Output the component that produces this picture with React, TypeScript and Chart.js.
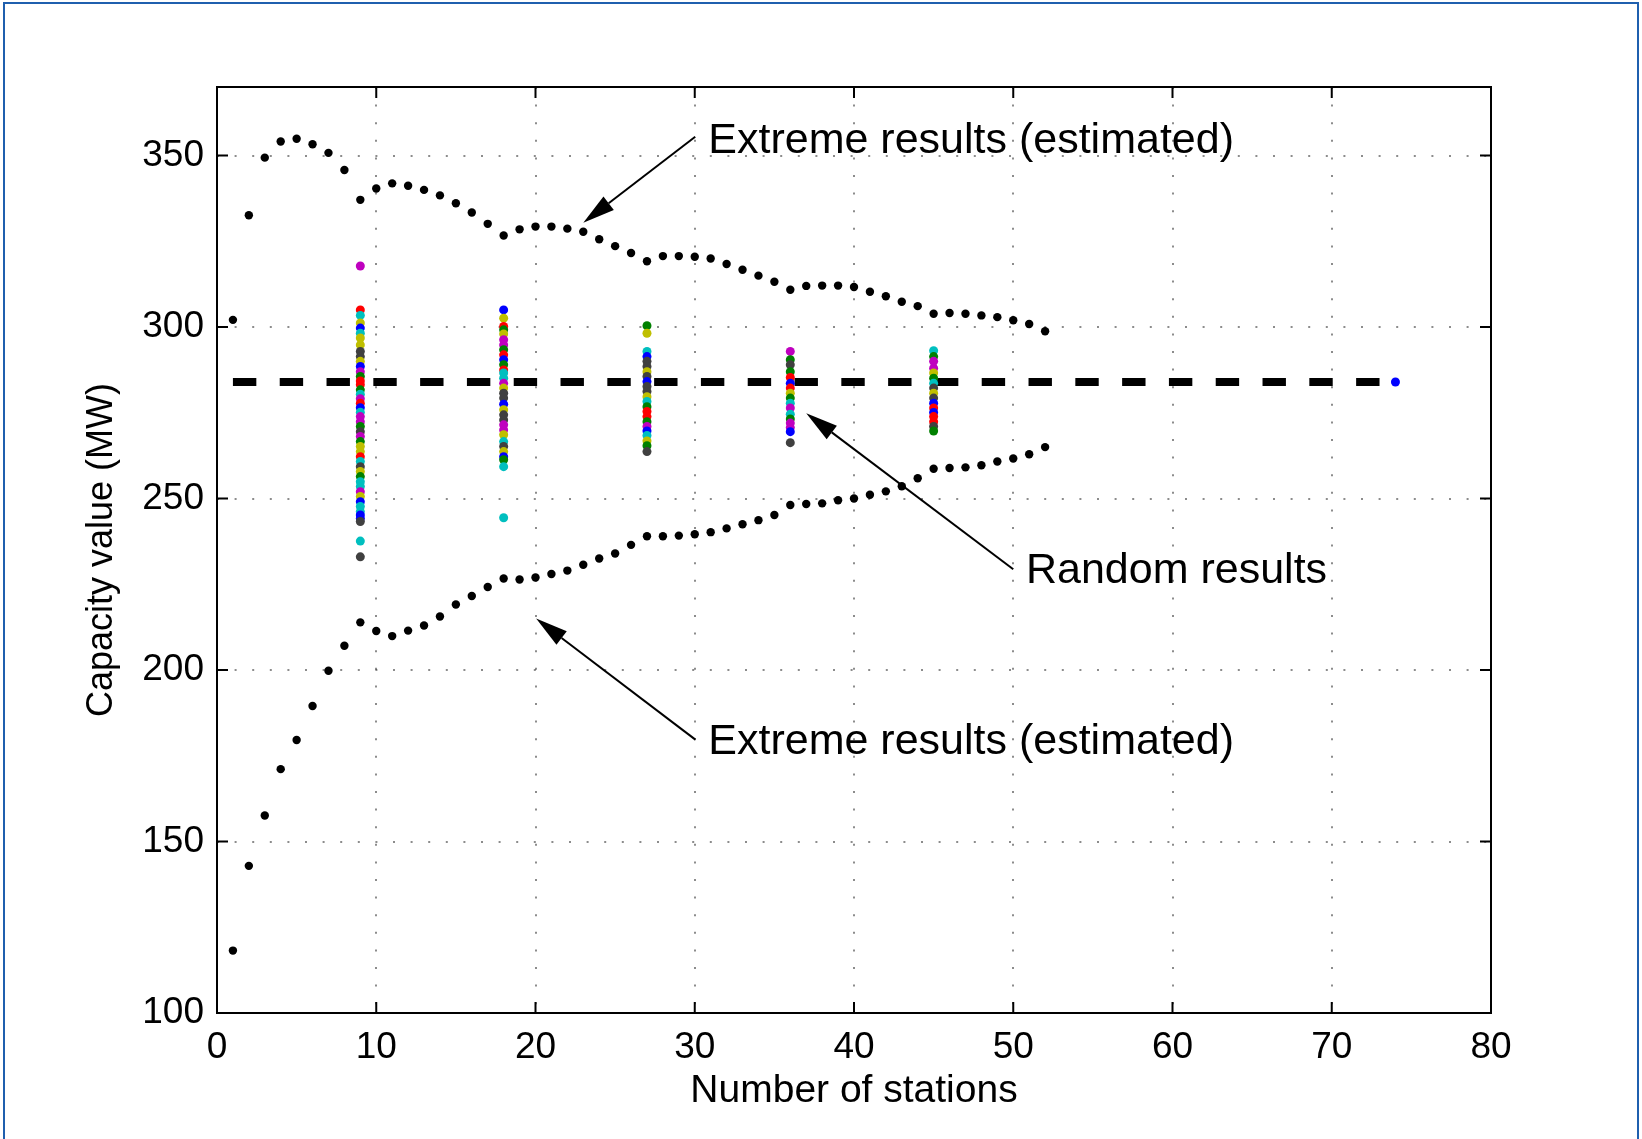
import React, { useEffect, useRef } from "react";
import { Chart, registerables } from "chart.js";

Chart.register(...registerables);

// ---------- data ----------
const stations = [
  1, 2, 3, 4, 5, 6, 7, 8, 9, 10, 11, 12, 13, 14, 15, 16, 17, 18, 19, 20, 21, 22, 23, 24, 25, 26,
  27, 28, 29, 30, 31, 32, 33, 34, 35, 36, 37, 38, 39, 40, 41, 42, 43, 44, 45, 46, 47, 48, 49, 50, 51, 52,
];
const upperExtreme = [
  302.1, 332.6, 349.4, 354.1, 354.9, 353.3, 350.8, 345.8, 337.1, 340.4, 341.9, 341.2, 340.0, 338.4,
  336.1, 333.4, 330.1, 326.7, 328.5, 329.3, 329.3, 328.7, 327.8, 325.6, 323.6, 321.6, 319.2, 320.7,
  320.7, 320.5, 320.0, 318.4, 316.7, 315.0, 313.2, 310.9, 312.0, 312.1, 312.1, 311.7, 310.3, 309.0,
  307.4, 306.1, 303.9, 304.1, 303.9, 303.4, 302.9, 302.0, 300.9, 298.8,
];
const lowerExtreme = [
  118.2, 142.9, 157.6, 171.1, 179.6, 189.5, 199.8, 207.1, 213.9, 211.4, 209.9, 211.5, 213.0, 215.6,
  219.1, 221.6, 224.2, 226.7, 226.4, 227.0, 228.0, 229.0, 230.7, 232.5, 234.0, 236.5, 239.0, 239.0,
  239.2, 239.6, 240.2, 241.3, 242.5, 243.7, 245.2, 248.1, 248.4, 248.6, 249.5, 250.0, 251.1, 252.1,
  253.6, 255.9, 258.7, 258.9, 259.1, 259.7, 260.8, 261.7, 262.9, 265.0,
];

const referenceX = [1, 74];
const referenceValue = 284;
const allStationsX = 74;
const allStationsValue = 284;

const sampleSizes = [9, 18, 27, 36, 45];

const random9 = [
  317.8, 305.0, 303.4, 301.2, 299.7, 298.2, 296.8, 294.8, 292.9, 291.4, 290.0, 288.5, 287.0, 285.6,
  284.3, 283.2, 281.7, 280.4, 279.1, 277.8, 276.5, 275.2, 273.9, 272.4, 271.0, 269.5, 268.1, 266.6,
  265.2, 263.7, 262.2, 260.8, 259.3, 257.9, 256.4, 254.9, 253.5, 252.0, 250.6, 249.1, 247.7, 246.2,
  245.2, 244.2, 243.3, 237.6, 233.0,
];
const random9Colors = "mrcybcyykkybmgrrgcmrbcmmgkmgyyrckygccmybccbbkck";

const random18 = [
  305.0, 302.6, 300.2, 299.2, 298.0, 296.3, 294.8, 293.4, 291.9, 290.5, 289.0, 287.5, 286.6, 285.1,
  283.6, 282.2, 280.7, 279.3, 277.5, 275.9, 274.4, 272.9, 271.5, 270.0, 268.6, 266.6, 265.2, 263.7,
  262.2, 261.3, 259.3, 244.4,
];
const random18Colors = "byrgymmgrbgrccmykkbykkmmyckybgcc";

const random27 = [
  300.4, 298.2, 292.9, 291.4, 290.0, 288.5, 287.0, 285.6, 284.1, 282.7, 281.2, 279.7, 278.3, 276.8,
  275.4, 273.9, 272.4, 271.0, 269.7, 268.4, 266.8, 265.4, 263.7,
];
const random27Colors = "gycbkkykbkkycgrrgmbcygk";

const random36 = [
  292.9, 290.5, 289.0, 287.0, 285.3, 283.6, 282.2, 280.7, 279.3, 277.8, 276.4, 274.6, 273.2, 272.0,
  270.7, 269.5, 266.3,
];
const random36Colors = "mgkgrbrygcmcgmmbk";

const random45 = [
  293.1, 291.4, 290.0, 288.0, 286.6, 285.1, 283.6, 282.2, 280.7, 279.3, 277.8, 276.4, 275.1, 273.9,
  272.4, 271.0, 269.7,
];
const random45Colors = "cgmmygckykbrbrrkg";

const xTicks = [0, 10, 20, 30, 40, 50, 60, 70, 80];
const yTicks = [100, 150, 200, 250, 300, 350];

// ---------- styling ----------
const PALETTE: Record<string, string> = {
  r: "#ff0000",
  g: "#008000",
  b: "#0000ff",
  c: "#00bfbf",
  m: "#bf00bf",
  y: "#bfbf00",
  k: "#404040",
};

const FONT = '"Liberation Sans", Arial, Helvetica, sans-serif';

const annotations = [
  { text: "Extreme results (estimated)", textAt: [30.85, 354.2], tail: [30.03, 355.5], tip: [23.0, 330.4] },
  { text: "Random results", textAt: [50.8, 228.8], tail: [50.0, 229.4], tip: [37.0, 274.9] },
  { text: "Extreme results (estimated)", textAt: [30.85, 178.9], tail: [30.04, 179.7], tip: [20.04, 215.0] },
];

const framePlugin = {
  id: "matlabFrame",
  afterDraw(chart: any) {
    const { ctx, chartArea: a, scales } = chart;
    ctx.save();
    ctx.strokeStyle = "#000";
    ctx.lineWidth = 2;
    ctx.strokeRect(a.left, a.top, a.right - a.left, a.bottom - a.top);
    ctx.beginPath();
    const tl = 11;
    for (const v of xTicks) {
      const px = scales.x.getPixelForValue(v);
      ctx.moveTo(px, a.bottom);
      ctx.lineTo(px, a.bottom - tl);
      ctx.moveTo(px, a.top);
      ctx.lineTo(px, a.top + tl);
    }
    for (const v of yTicks) {
      const py = scales.y.getPixelForValue(v);
      ctx.moveTo(a.left, py);
      ctx.lineTo(a.left + tl, py);
      ctx.moveTo(a.right, py);
      ctx.lineTo(a.right - tl, py);
    }
    ctx.stroke();

    // annotations
    ctx.fillStyle = "#000";
    ctx.strokeStyle = "#000";
    ctx.font = `43px ${FONT}`;
    ctx.textAlign = "left";
    ctx.textBaseline = "middle";
    for (const an of annotations) {
      const tx = scales.x.getPixelForValue(an.textAt[0]);
      const ty = scales.y.getPixelForValue(an.textAt[1]);
      ctx.fillText(an.text, tx, ty);
      const x0 = scales.x.getPixelForValue(an.tail[0]);
      const y0 = scales.y.getPixelForValue(an.tail[1]);
      const x1 = scales.x.getPixelForValue(an.tip[0]);
      const y1 = scales.y.getPixelForValue(an.tip[1]);
      const ang = Math.atan2(y1 - y0, x1 - x0);
      const hl = 32;
      const hw = 8.5;
      const bx = x1 - hl * Math.cos(ang);
      const by = y1 - hl * Math.sin(ang);
      ctx.lineWidth = 2;
      ctx.beginPath();
      ctx.moveTo(x0, y0);
      ctx.lineTo(bx, by);
      ctx.stroke();
      ctx.beginPath();
      ctx.moveTo(x1, y1);
      ctx.lineTo(bx + hw * Math.sin(ang), by - hw * Math.cos(ang));
      ctx.lineTo(bx - hw * Math.sin(ang), by + hw * Math.cos(ang));
      ctx.closePath();
      ctx.fill();
    }
    ctx.restore();
  },
};

function columnDataset(x: number, values: number[], colors: string) {
  return {
    type: "scatter" as const,
    data: values.map((v) => ({ x, y: v })),
    backgroundColor: colors.split("").map((k) => PALETTE[k]),
    borderWidth: 0,
    pointRadius: 4.5,
    order: 0,
  };
}

export default function App() {
  const canvasRef = useRef<HTMLCanvasElement | null>(null);

  useEffect(() => {
    if (!canvasRef.current) return;
    Chart.defaults.font.family = FONT;
    const gridCommon = { color: "rgba(0,0,0,0.45)", lineWidth: 2, drawTicks: false };
    const chart = new Chart(canvasRef.current, {
      type: "scatter",
      data: {
        datasets: [
          columnDataset(sampleSizes[0], random9, random9Colors),
          columnDataset(sampleSizes[1], random18, random18Colors),
          columnDataset(sampleSizes[2], random27, random27Colors),
          columnDataset(sampleSizes[3], random36, random36Colors),
          columnDataset(sampleSizes[4], random45, random45Colors),
          {
            data: [{ x: allStationsX, y: allStationsValue }],
            backgroundColor: "#0000ff",
            borderWidth: 0,
            pointRadius: 4.5,
            order: 0,
          },
          {
            data: stations.map((s, i) => ({ x: s, y: upperExtreme[i] })),
            backgroundColor: "#000",
            borderWidth: 0,
            pointRadius: 4.2,
            order: 0,
          },
          {
            data: stations.map((s, i) => ({ x: s, y: lowerExtreme[i] })),
            backgroundColor: "#000",
            borderWidth: 0,
            pointRadius: 4.2,
            order: 0,
          },
          {
            data: referenceX.map((x) => ({ x, y: referenceValue })),
            showLine: true,
            borderColor: "#000",
            borderWidth: 8,
            borderDash: [23.4, 23.4],
            pointRadius: 0,
            order: 1,
          },
        ] as any,
      },
      options: {
        animation: false,
        responsive: false,
        events: [],
        layout: { padding: { left: 0, top: 87, right: 151, bottom: 0 } },
        plugins: { legend: { display: false }, tooltip: { enabled: false } },
        scales: {
          x: {
            type: "linear",
            min: 0,
            max: 80,
            afterBuildTicks: (s: any) => {
              s.ticks = xTicks.map((v) => ({ value: v }));
            },
            afterFit: (s: any) => {
              s.height = 126;
            },
            grid: gridCommon,
            border: { display: false, dash: [2, 15.6] },
            ticks: { color: "#000", font: { size: 37 }, padding: 13, maxRotation: 0, autoSkip: false },
            title: {
              display: true,
              text: "Number of stations",
              color: "#000",
              font: { size: 39 },
              padding: { top: 0, bottom: 24 },
            },
          },
          y: {
            type: "linear",
            min: 100,
            max: 370,
            afterBuildTicks: (s: any) => {
              s.ticks = yTicks.map((v) => ({ value: v }));
            },
            afterFit: (s: any) => {
              s.width = 217;
            },
            grid: gridCommon,
            border: { display: false, dash: [2, 15.6] },
            ticks: { color: "#000", font: { size: 37 }, padding: 13, autoSkip: false },
            title: {
              display: true,
              text: "Capacity value (MW)",
              color: "#000",
              font: { size: 36 },
              padding: { top: 80, bottom: 0 },
            },
          },
        },
      } as any,
      plugins: [framePlugin],
    });
    return () => chart.destroy();
  }, []);

  return (
    <div
      style={{
        position: "absolute",
        top: 0,
        left: 0,
        width: 1642,
        height: 1139,
        overflow: "hidden",
        background: "#fff",
      }}
    >
      <canvas ref={canvasRef} width={1642} height={1139} style={{ position: "absolute", left: 0, top: 0 }} />
      <div
        style={{
          position: "absolute",
          left: 3,
          top: 2,
          width: 1636,
          height: 1200,
          boxSizing: "border-box",
          border: "2px solid #1f5fae",
          pointerEvents: "none",
        }}
      />
    </div>
  );
}
